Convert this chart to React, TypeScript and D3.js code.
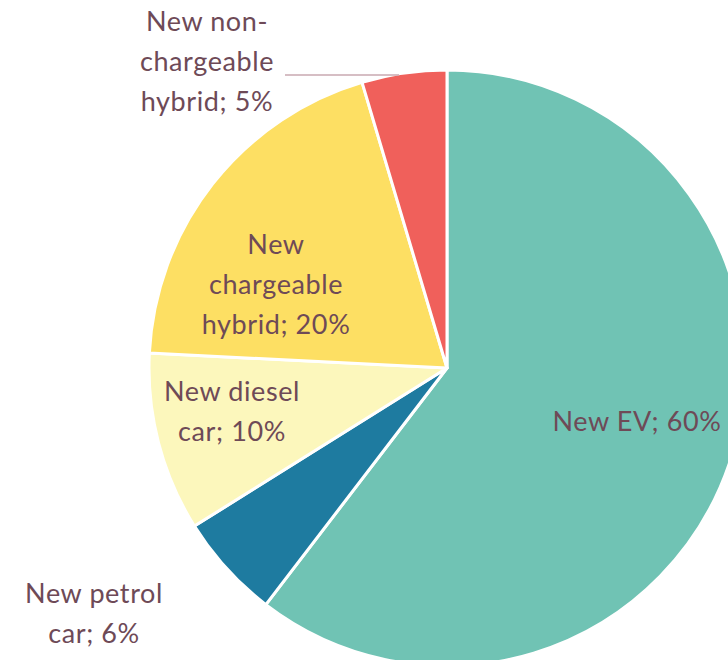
import * as d3 from "d3";

// shares (labels show the rounded value)
const categories = [
  "New EV",
  "New petrol car",
  "New diesel car",
  "New chargeable hybrid",
  "New non-chargeable hybrid",
];
const shares = [60.4, 5.7, 9.7, 19.6, 4.6];
const labelLines = [
  ["New EV; 60%"],
  ["New petrol", "car; 6%"],
  ["New diesel", "car; 10%"],
  ["New", "chargeable", "hybrid; 20%"],
  ["New non-", "chargeable", "hybrid; 5%"],
];

const colors = ["#70C3B4", "#1E7BA0", "#FCF7BC", "#FDDF63", "#F0605B"];

// label centres, relative to the pie centre
const labelPos: [number, number][] = [
  [190, 54],
  [-353, 246],
  [-215, 44],
  [-171, -83],
  [-240, -306],
];

const width = 728;
const height = 660;
const cx = 447;
const cy = 368;
const radius = 298;
const lineH = 40;

const App = () => {
  const pie = d3
    .pie<number>()
    .value((d) => d)
    .sort(null);
  const arc = d3.arc<d3.PieArcDatum<number>>().innerRadius(0).outerRadius(radius);
  const slices = pie(shares);

  // leader line for the small red slice
  const red = slices[4];
  const edgeAngle = (red.startAngle + red.endAngle) / 2;
  const edgeX = Math.sin(edgeAngle) * radius;
  const edgeY = -Math.cos(edgeAngle) * radius;

  return (
    <svg
      width={width}
      height={height}
      style={{ position: "absolute", left: 0, top: 0, background: "#fff" }}
      fontFamily="Lato, 'Open Sans', sans-serif"
    >
      <g transform={`translate(${cx} ${cy})`}>
        {slices.map((d, i) => (
          <path
            key={categories[i]}
            d={arc(d) || ""}
            fill={colors[i]}
            stroke="#fff"
            strokeWidth={3}
            strokeLinejoin="round"
          />
        ))}
        <line
          x1={-162}
          y1={edgeY + 2}
          x2={edgeX - 5}
          y2={edgeY + 2}
          stroke="#C9A9B1"
          strokeWidth={1.5}
        />
        {labelLines.map((lines, i) => (
          <text
            key={i}
            textAnchor="middle"
            fontSize={27}
            letterSpacing={0.6}
            fill="#6E4A57"
            transform={`translate(${labelPos[i][0]} ${labelPos[i][1]})`}
          >
            {lines.map((l, j) => (
              <tspan
                key={j}
                x={0}
                y={(j - (lines.length - 1) / 2) * lineH}
                dy="0.35em"
              >
                {l}
              </tspan>
            ))}
          </text>
        ))}
      </g>
    </svg>
  );
};

export default App;
